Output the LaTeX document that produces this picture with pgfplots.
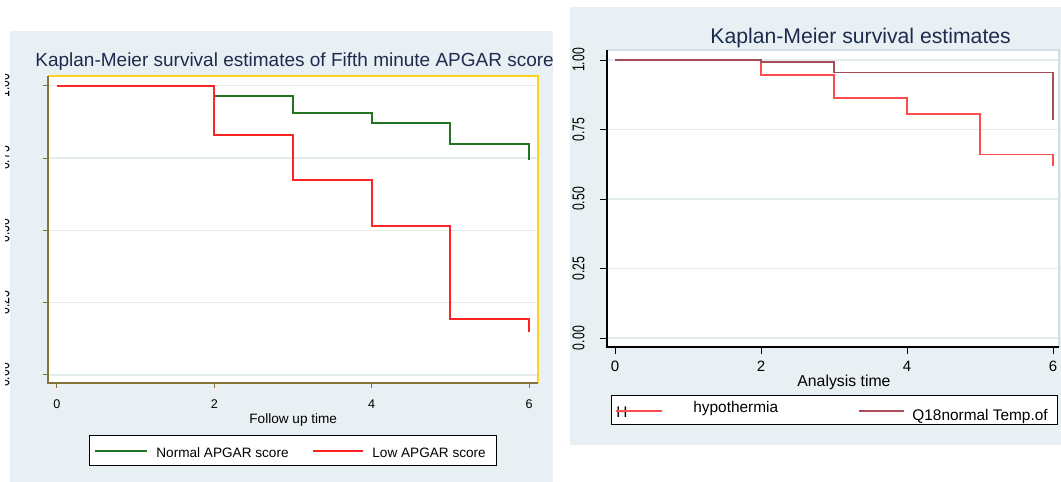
\documentclass[border=0pt]{standalone}
\usepackage{pgfplots}
\pgfplotsset{compat=1.18}
\usepackage{fontspec}
\setmainfont{Liberation Sans}
\definecolor{panelbg}{HTML}{E9F0F3}
\definecolor{titlec}{HTML}{1E2B4F}
\definecolor{olivefr}{HTML}{857338}
\definecolor{goldfr}{HTML}{FFD21F}
\definecolor{gridc}{HTML}{E3EBEE}
\definecolor{kmgreen}{HTML}{237323}
\definecolor{kmred}{HTML}{FF2424}
\definecolor{hypo}{HTML}{FF4D4D}
\definecolor{qnorm}{HTML}{A84C58}
\definecolor{lightfr}{HTML}{D5DEE2}

\begin{document}
\begin{tikzpicture}
\begin{scope}[x=0.5pt,y=0.5pt]
\path[use as bounding box] (0,0) rectangle (1061,482);
\clip (0,0) rectangle (1061,482);
\fill[white] (0,0) rectangle (1061,482);
\fill[panelbg] (10,0) rectangle (553,451);
\fill[panelbg] (570,37) rectangle (1061,475);

% ---------------- left panel ----------------
\begin{axis}[
  at={(24pt,49.5pt)}, anchor=south west, scale only axis,
  width=245pt, height=153.5pt,
  xmin=-0.114, xmax=6.114, ymin=-0.0277, ymax=1.0335,
  axis line style={draw=none},
  axis background/.style={fill=white},
  xtick={0,2,4,6}, ytick={0,0.25,0.5,0.75,1},
  xtick pos=left, ytick pos=left,
  tick align=outside, major tick length=2.5pt,
  tick style={olivefr, line width=0.5pt},
  ymajorgrids, grid style={gridc, line width=0.75pt},
  /pgf/number format/assume math mode=true,
  yticklabel={\scalebox{0.72}[1]{\pgfmathprintnumber[fixed,fixed zerofill,precision=2]{\tick}}},
  yticklabel style={rotate=90, anchor=south, inner sep=0pt, font=\fontsize{8.5}{9}\selectfont},
  xticklabel style={anchor=north, inner sep=0pt, font=\fontsize{6.3}{7}\selectfont},
  yticklabel shift=16.5pt, xticklabel shift=5.75pt,
  after end axis/.code={
    \draw[goldfr, line width=0.9pt] (rel axis cs:0,1) -- (rel axis cs:1,1) -- (rel axis cs:1,0);
    \draw[olivefr, line width=0.9pt] (rel axis cs:0,1) -- (rel axis cs:0,0) -- (rel axis cs:1,0);
  },
]
\addplot[const plot, kmgreen, line width=1pt] coordinates {(0,1) (2,0.963) (3,0.904) (4,0.872) (5,0.800) (6,0.744)};
\addplot[const plot, kmred, line width=1pt] coordinates {(0,1) (2,0.830) (3,0.675) (4,0.515) (5,0.194) (6,0.148)};
\end{axis}
% the reference crops the left tick labels at its edge
\fill[white] (0,0) rectangle (5,482);

% ---------------- right panel ----------------
\begin{axis}[
  at={(303.5pt,67.5pt)}, anchor=south west, scale only axis,
  width=226pt, height=148.5pt,
  xmin=-0.11, xmax=6.082, ymin=-0.032, ymax=1.036,
  axis line style={draw=none},
  axis background/.style={fill=white},
  xtick={0,2,4,6}, ytick={0,0.25,0.5,0.75,1},
  xtick pos=left, ytick pos=left,
  tick align=outside, major tick length=3.5pt,
  tick style={black, line width=0.5pt},
  ymajorgrids, grid style={gridc, line width=0.75pt},
  /pgf/number format/assume math mode=true,
  yticklabel={\scalebox{0.72}[1]{\pgfmathprintnumber[fixed,fixed zerofill,precision=2]{\tick}}},
  yticklabel style={rotate=90, anchor=south, inner sep=0pt, font=\fontsize{8.5}{9}\selectfont},
  xticklabel style={anchor=north, inner sep=0pt, font=\fontsize{7.5}{8}\selectfont},
  yticklabel shift=7.5pt, xticklabel shift=3.5pt,
  after end axis/.code={
    \draw[lightfr, line width=0.6pt] (rel axis cs:0,1) -- (rel axis cs:1,1) -- (rel axis cs:1,0);
    \draw[black, line width=0.6pt] (rel axis cs:0,1) -- (rel axis cs:0,0) -- (rel axis cs:1,0);
  },
]
\addplot[const plot, hypo, line width=0.75pt] coordinates {(0,1) (2,0.946) (3,0.864) (4,0.805) (5,0.660) (6,0.618)};
\addplot[const plot, qnorm, line width=0.75pt] coordinates {(0,1) (2,0.992) (3,0.955) (6,0.783)};
\end{axis}

% ---------------- titles, labels, legends ----------------
\node[anchor=base west, inner sep=0pt, text=titlec, font=\fontsize{9.5}{11}\selectfont] at (35,415) {Kaplan-Meier survival estimates of Fifth minute APGAR score};
\node[anchor=base west, inner sep=0pt, text=titlec, font=\fontsize{10.6}{12}\selectfont] at (710,438.7) {Kaplan-Meier survival estimates};
\node[anchor=base west, inner sep=0pt, font=\fontsize{6.8}{8}\selectfont] at (249,58) {Follow up time};
\node[anchor=base west, inner sep=0pt, font=\fontsize{7.9}{9}\selectfont] at (797,95.3) {Analysis time};

\draw[black, line width=0.5pt, fill=white] (89,16) rectangle (496,46);
\draw[kmgreen, line width=1pt] (95,31) -- (147,31);
\node[anchor=base west, inner sep=0pt, font=\fontsize{6.8}{8}\selectfont] at (156,24.7) {Normal APGAR score};
\draw[kmred, line width=1pt] (313,31) -- (363,31);
\node[anchor=base west, inner sep=0pt, font=\fontsize{6.8}{8}\selectfont] at (372,24.7) {Low APGAR score};

\draw[black, line width=0.5pt, fill=white] (611,57) rectangle (1057,86);
\node[anchor=base west, inner sep=0pt, font=\fontsize{7.7}{9}\selectfont] at (616,64) {H};
\draw[hypo, line width=0.75pt] (616,71) -- (662,71);
\node[anchor=base west, inner sep=0pt, font=\fontsize{7.7}{9}\selectfont] at (693,69.3) {hypothermia};
\draw[qnorm, line width=0.75pt] (859,71) -- (904,71);
\node[anchor=base west, inner sep=0pt, font=\fontsize{7.7}{9}\selectfont] at (912,61) {Q18normal Temp.of};
\end{scope}
\end{tikzpicture}
\end{document}
